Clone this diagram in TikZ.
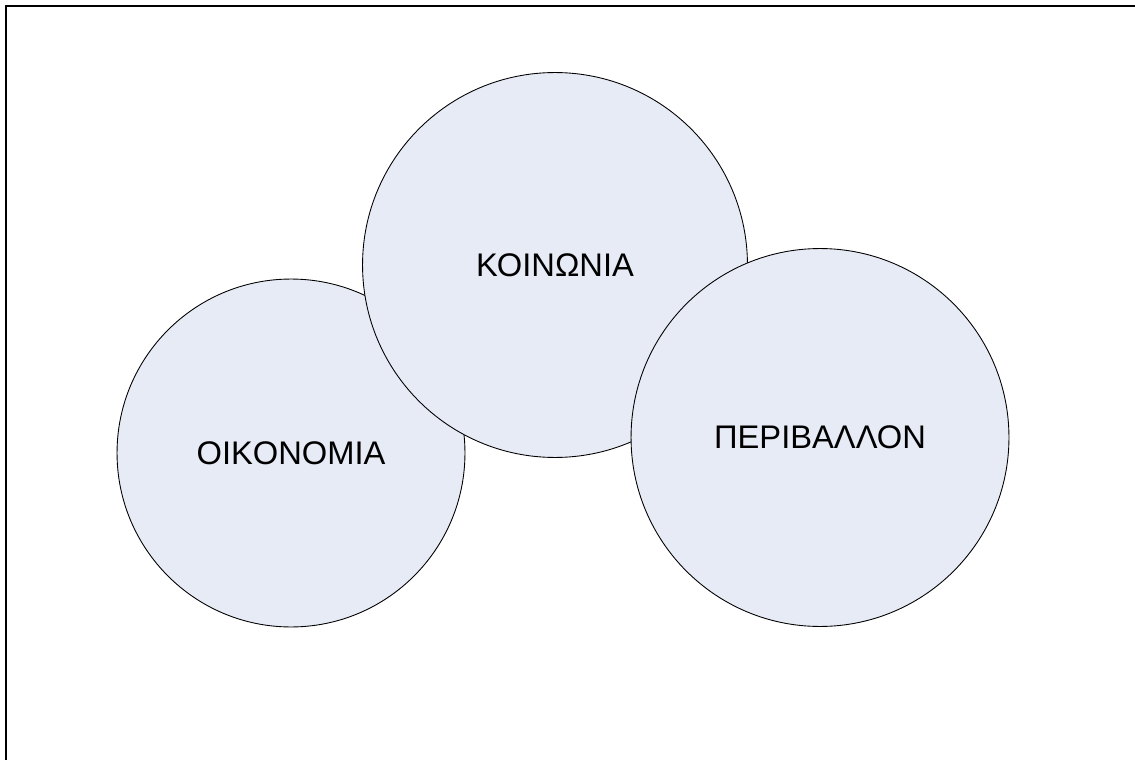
\documentclass[tikz,border=0pt]{standalone}
\usepackage{fontspec}
\setmainfont{Liberation Sans}
\definecolor{circfill}{RGB}{231,235,246}
\begin{document}
\begin{tikzpicture}[x=0.02cm, y=-0.02cm,
    area/.style={circle, draw, line width=0.5pt, fill=circfill, inner sep=0pt, font=\fontsize{18.6}{22}\selectfont}]
      \useasboundingbox (0,0) rectangle (1135,760);
      \clip (0,0) rectangle (1135,760);
      \draw[line width=1.5pt] (6,6) rectangle (1150,775);
      \node[area, minimum size=6.96cm] (oikonomia) at (291,453) {OIKONOMIA};
      \node[area, minimum size=7.7cm] (koinonia) at (555,265) {ΚΟΙΝΩΝΙΑ};
      \node[area, minimum size=7.56cm] (perivallon) at (820,437.5) {ΠΕΡΙΒΑΛΛΟΝ};
\end{tikzpicture}
\end{document}
